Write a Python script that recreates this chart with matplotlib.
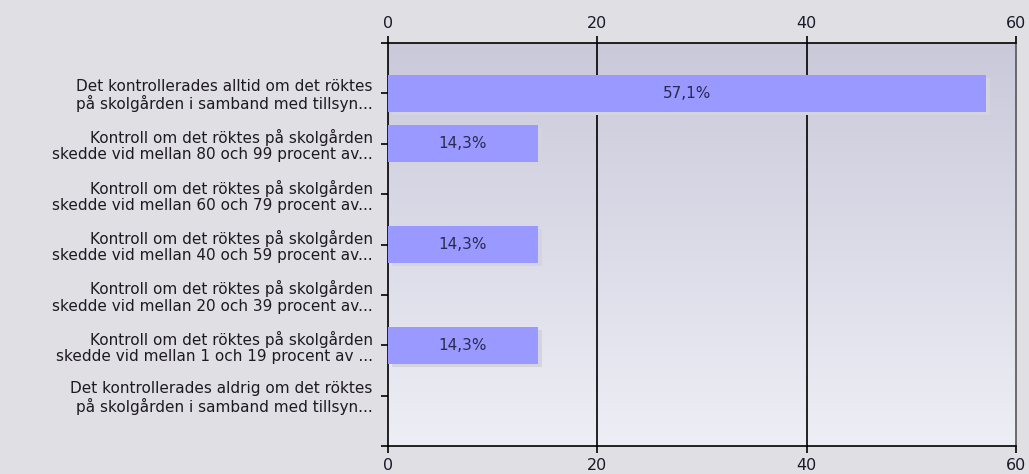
import numpy as np
import matplotlib.pyplot as plt
import matplotlib.transforms as mtransforms
from matplotlib.colors import LinearSegmentedColormap

categories = [
    "Det kontrollerades alltid om det röktes\npå skolgården i samband med tillsyn...",
    "Kontroll om det röktes på skolgården\nskedde vid mellan 80 och 99 procent av...",
    "Kontroll om det röktes på skolgården\nskedde vid mellan 60 och 79 procent av...",
    "Kontroll om det röktes på skolgården\nskedde vid mellan 40 och 59 procent av...",
    "Kontroll om det röktes på skolgården\nskedde vid mellan 20 och 39 procent av...",
    "Kontroll om det röktes på skolgården\nskedde vid mellan 1 och 19 procent av ...",
    "Det kontrollerades aldrig om det röktes\npå skolgården i samband med tillsyn...",
]
values = [57.1, 14.3, 0.0, 14.3, 0.0, 14.3, 0.0]
x_ticks = [0, 20, 40, 60]

fig = plt.figure(figsize=(10.29, 4.74), dpi=100, facecolor="#dfdfe4")
ax = fig.add_axes([388 / 1029, 1 - 446 / 474, 628 / 1029, 403 / 474])

# background gradient of the plot area
cmap = LinearSegmentedColormap.from_list("bg", ["#c9c9da", "#eeeef6"])
grad = np.linspace(0, 1, 256).reshape(-1, 1)
ax.imshow(grad, cmap=cmap, aspect="auto", extent=[0, 60, 7, -1], zorder=0)

y = np.arange(len(categories))

for xv in x_ticks[1:-1]:
    ax.axvline(xv, color="black", lw=1.2, zorder=1)

# drop shadow
shadow = ax.transData + mtransforms.ScaledTranslation(4 / 100, -3 / 100, fig.dpi_scale_trans)
ax.barh(y, values, height=0.74, color="#d4d4de", transform=shadow, zorder=2)
bars = ax.barh(y, values, height=0.74, color="#9999ff", zorder=3)

for yi, v in zip(y, values):
    if v > 0:
        ax.text(v / 2, yi, f"{v:.1f}%".replace(".", ","), ha="center", va="center",
                fontsize=11, color="#2a2a50", zorder=4)

ax.set_xlim(0, 60)
ax.set_ylim(7, -1)
ax.set_xticks(x_ticks)
ax.set_yticks(range(-1, 8))
ax.set_yticklabels([""] + categories + [""], fontsize=11, color="#1e1a22",
                   linespacing=1.1)
ax.tick_params(axis="x", top=True, labeltop=True, bottom=True, labelbottom=True,
               length=5, width=1.2, labelsize=11.5, colors="black", pad=4)
ax.tick_params(axis="y", length=5, width=1.2, pad=6)
for lab in ax.get_xticklabels():
    lab.set_color("#1a1a2a")
for s in ax.spines.values():
    s.set_linewidth(1.2)
    s.set_color("black")
ax.spines["right"].set_color("#555555")

fig.savefig("out.png", dpi=100, facecolor=fig.get_facecolor())
